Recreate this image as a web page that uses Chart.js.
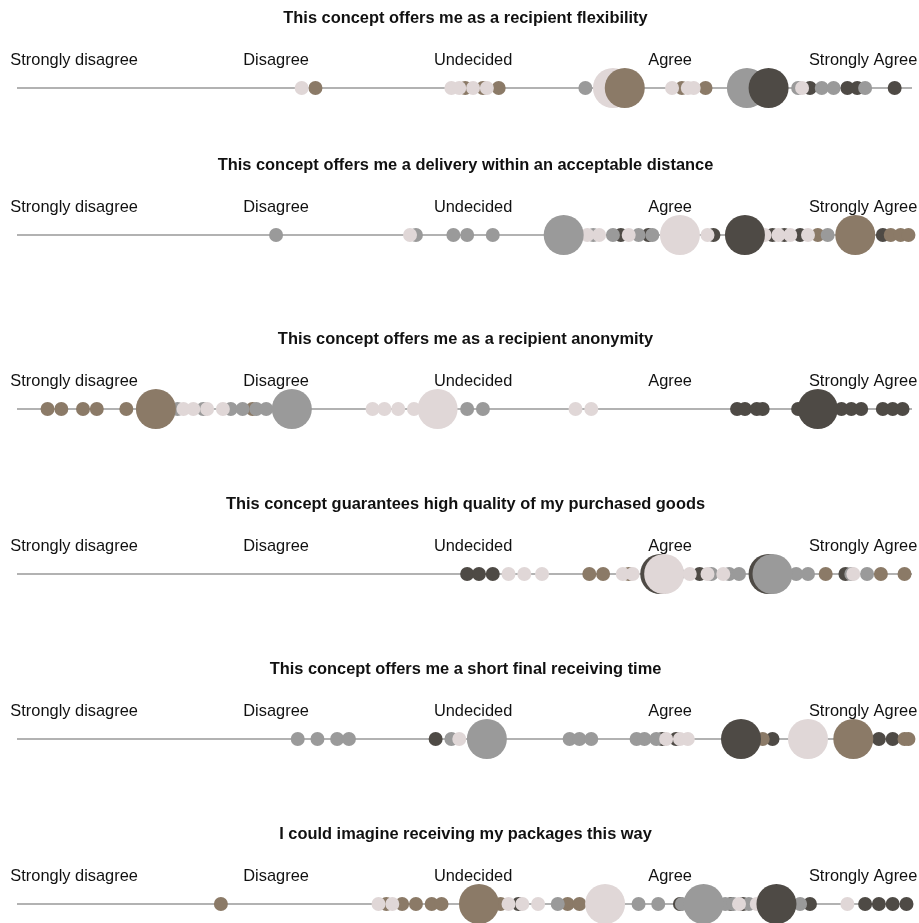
<!DOCTYPE html>
<html>
<head>
<meta charset="utf-8">
<script src="https://cdn.jsdelivr.net/npm/chart.js@4"></script>
<style>
  body { margin: 0; background: #fff; overflow: hidden; width: 919px; height: 923px; position: relative; }
  canvas { position: absolute; left: 0; }
</style>
</head>
<body>
<script>
const answers = ['Strongly disagree', 'Disagree', 'Undecided', 'Agree', 'Strongly Agree'];
const answerTicks = [0.975, 2, 3, 4, 4.98];

const statements = [
    'This concept offers me as a recipient flexibility',
    'This concept offers me a delivery within an acceptable distance',
    'This concept offers me as a recipient anonymity',
    'This concept guarantees high quality of my purchased goods',
    'This concept offers me a short final receiving time',
    'I could imagine receiving my packages this way'
];

// single ratings, one list per statement
const brownRatings = [
    [2.20, 2.96, 3.05, 3.13, 4.06, 4.18],
    [4.75, 5.12, 5.17, 5.21],
    [0.84, 0.91, 1.02, 1.09, 1.24, 1.88],
    [3.59, 3.66, 3.79, 4.79, 5.07, 5.19],
    [4.47, 5.19, 5.21],
    [1.72, 2.56, 2.64, 2.71, 2.79, 2.84, 3.14, 3.48, 3.54]
];
const lightRatings = [
    [2.13, 2.89, 2.93, 3.00, 3.07, 4.01, 4.09, 4.12, 4.67],
    [2.68, 3.58, 3.64, 3.79, 4.19, 4.48, 4.55, 4.61, 4.70],
    [1.53, 1.58, 1.65, 1.73, 2.49, 2.55, 2.62, 2.70, 3.52, 3.60],
    [3.18, 3.26, 3.35, 3.76, 3.81, 4.10, 4.19, 4.27, 4.93],
    [2.93, 3.98, 4.05, 4.09],
    [2.52, 2.59, 3.18, 3.25, 3.33, 4.35, 4.44, 4.90]
];
const greyRatings = [
    [3.57, 4.65, 4.77, 4.83, 4.99],
    [2.00, 2.71, 2.90, 2.97, 3.10, 3.61, 3.71, 3.84, 3.91, 4.80],
    [1.50, 1.63, 1.77, 1.83, 1.90, 1.95, 2.97, 3.05],
    [4.04, 4.21, 4.30, 4.35, 4.64, 4.70, 4.92, 5.00],
    [2.11, 2.21, 2.31, 2.37, 2.89, 3.49, 3.54, 3.60, 3.83, 3.87, 3.93],
    [3.43, 3.84, 3.94, 4.06, 4.28, 4.32, 4.40, 4.66]
];
const darkRatings = [
    [4.71, 4.90, 4.95, 5.14],
    [3.75, 3.89, 4.22, 4.52, 4.58, 4.66, 5.08],
    [4.34, 4.38, 4.44, 4.47, 4.65, 4.87, 4.92, 4.97, 5.08, 5.13, 5.18],
    [2.97, 3.03, 3.10, 4.15, 4.89],
    [2.81, 3.96, 4.03, 4.52, 5.06, 5.13],
    [3.23, 4.05, 4.31, 4.37, 4.71, 4.99, 5.06, 5.13, 5.20]
];

// group averages, drawn as the large bubbles
const brownAverages = [[3.77], [4.94], [1.39], [], [4.93], [3.03]];
const lightAverages = [[3.71], [4.05], [2.82], [3.97], [4.70], [3.67]];
const greyAverages = [[4.39], [3.46], [2.08], [4.52], [3.07], [4.17]];
const darkAverages = [[4.50], [4.38], [4.75], [3.95, 4.50], [4.36], [4.54]];

const colors = { brown: '#8b7a67', light: '#e0d7d7', grey: '#9a9a9a', dark: '#4e4a45' };
const lineTops = [88, 235, 409, 574, 739, 904];
const ROW_H = 176;

const rowDecor = (title) => ({
    id: 'rowDecor',
    beforeDatasetsDraw(chart) {
        const { ctx, chartArea, scales } = chart;
        const y = scales.y.getPixelForValue(0);
        ctx.save();
        ctx.strokeStyle = '#999';
        ctx.lineWidth = 1.6;
        ctx.beginPath();
        ctx.moveTo(chartArea.left, y);
        ctx.lineTo(chartArea.right, y);
        ctx.stroke();

        ctx.fillStyle = '#111';
        ctx.textAlign = 'center';
        ctx.textBaseline = 'alphabetic';
        ctx.font = 'bold 16.4px "Liberation Sans", Arial, sans-serif';
        ctx.fillText(title, (chartArea.left + chartArea.right) / 2 + 1, y - 65);
        ctx.font = '16.4px "Liberation Sans", Arial, sans-serif';
        answers.forEach((a, k) => {
            ctx.fillText(a, scales.x.getPixelForValue(answerTicks[k]), y - 23);
        });
        ctx.restore();
    }
});

const small = (values) => values.map(v => ({ x: v, y: 0, r: 7 }));

statements.forEach((statement, i) => {
    const canvas = document.createElement('canvas');
    canvas.width = 919;
    canvas.height = ROW_H;
    canvas.style.top = (lineTops[i] - ROW_H / 2) + 'px';
    document.body.appendChild(canvas);

    // large bubbles left to right, so the right one sits on top
    const large = [
        ...brownAverages[i].map(v => ({ v, c: colors.brown })),
        ...lightAverages[i].map(v => ({ v, c: colors.light })),
        ...greyAverages[i].map(v => ({ v, c: colors.grey })),
        ...darkAverages[i].map(v => ({ v, c: colors.dark }))
    ].sort((a, b) => a.v - b.v);

    // first dataset is drawn on top
    new Chart(canvas, {
        type: 'bubble',
        data: {
            datasets: [
                { data: large.map(p => ({ x: p.v, y: 0, r: 20 })), backgroundColor: large.map(p => p.c) },
                { data: small(lightRatings[i]), backgroundColor: colors.light },
                { data: small(greyRatings[i]), backgroundColor: colors.grey },
                { data: small(brownRatings[i]), backgroundColor: colors.brown },
                { data: small(darkRatings[i]), backgroundColor: colors.dark }
            ].map(d => ({ ...d, borderWidth: 0, clip: false }))
        },
        options: {
            responsive: false,
            animation: false,
            events: [],
            layout: { autoPadding: false, padding: { left: 17, right: 7, top: 0, bottom: 0 } },
            scales: {
                x: { type: 'linear', min: 0.685, max: 5.228, display: false },
                y: { type: 'linear', min: -1, max: 1, display: false }
            },
            plugins: {
                legend: { display: false },
                tooltip: { enabled: false }
            }
        },
        plugins: [rowDecor(statement)]
    });
});
</script>
</body>
</html>
